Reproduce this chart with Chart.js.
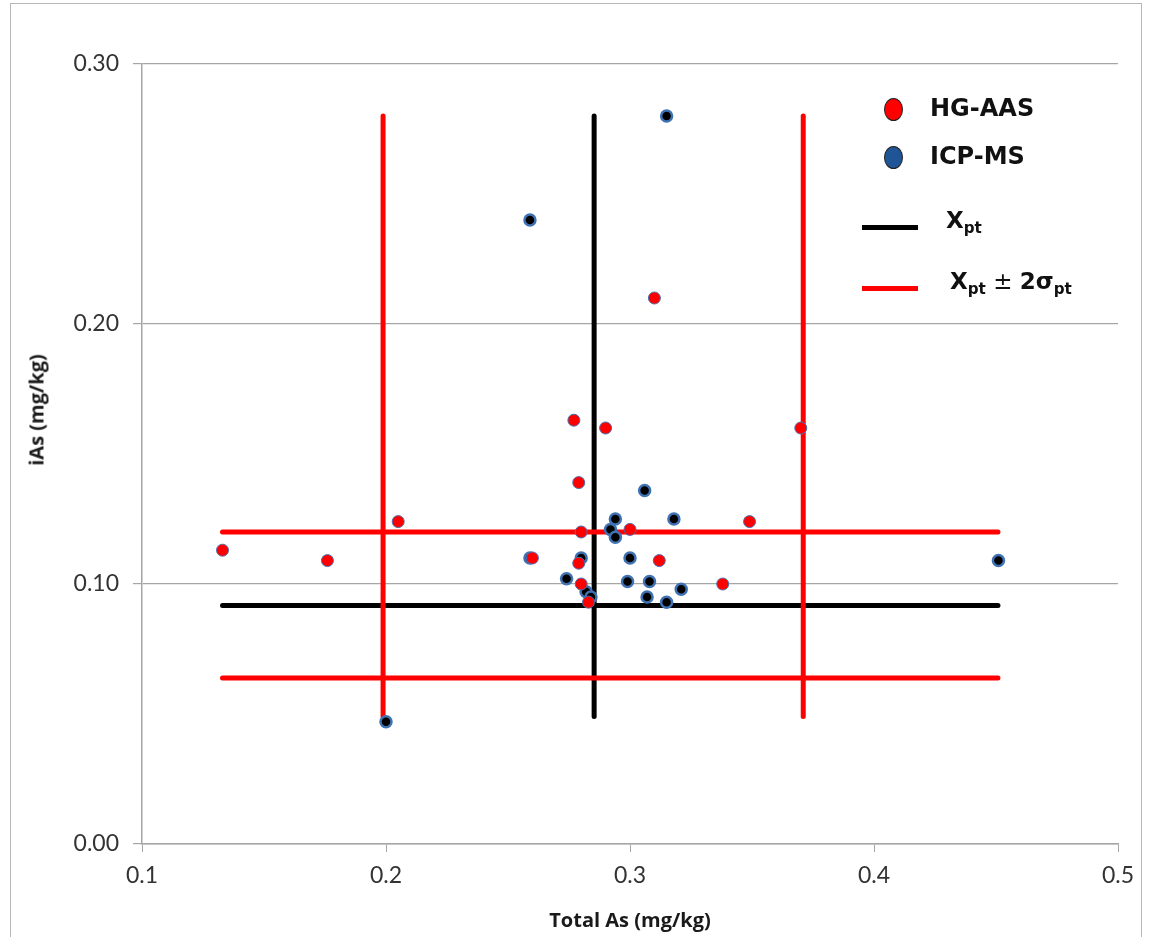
<!DOCTYPE html>
<html>
<head>
<meta charset="utf-8">
<script src="https://cdn.jsdelivr.net/npm/chart.js@4.4.1/dist/chart.umd.min.js"></script>
<style>
  body { margin: 0; background: #fff; font-family: Lato, "Noto Sans", sans-serif; }
  #wrap { position: relative; width: 1153px; height: 937px; overflow: hidden; }
  #frame { position: absolute; left: 10px; top: 3px; width: 1132px; height: 960px; border: 1.5px solid #b8b8b8; box-sizing: border-box; }
  #chartAs { position: absolute; left: 0; top: 0; }
  .ytitle { position: absolute; left: 36px; top: 410px; transform: translate(-50%, -50%) rotate(-90deg); font-family: "Open Sans", sans-serif; font-weight: bold; font-size: 20px; white-space: nowrap; color: #1a1a1a; }
  .leg { position: absolute; font-family: "DejaVu Sans", sans-serif; font-weight: bold; color: #111; white-space: nowrap; }
  .dot { position: absolute; width: 19px; height: 23px; border-radius: 50%; border: 1.5px solid #222; box-sizing: border-box; }
  .bar { position: absolute; height: 5px; width: 56px; }
  sub { font-size: 0.66em; vertical-align: -0.3em; }
</style>
</head>
<body>
<div id="wrap">
  <div id="frame"></div>
  <canvas id="chartAs" width="1153" height="937"></canvas>
  <div class="ytitle">iAs (mg/kg)</div>

  <div class="dot" style="left:884px; top:98px; background:#ff0000;"></div>
  <div class="leg" style="left:930px; top:94px; font-size:24px;">HG-AAS</div>
  <div class="dot" style="left:884px; top:146px; background:#1f5496;"></div>
  <div class="leg" style="left:930px; top:142px; font-size:24px;">ICP-MS</div>
  <div class="bar" style="left:862px; top:225px; background:#000;"></div>
  <div class="leg" style="left:946px; top:207px; font-size:23px;">X<sub>pt</sub></div>
  <div class="bar" style="left:862px; top:286px; background:#ff0000;"></div>
  <div class="leg" style="left:950px; top:268px; font-size:23px;">X<sub>pt</sub><span style="font-weight:normal"> ± </span>2σ<sub>pt</sub></div>
</div>

<script>
// HG-AAS results (total As, iAs)
const hgX = [0.133, 0.176, 0.205, 0.260, 0.277, 0.290, 0.279, 0.280, 0.279, 0.280, 0.283, 0.300, 0.312, 0.310, 0.338, 0.349, 0.370];
const hgY = [0.113, 0.109, 0.124, 0.110, 0.163, 0.160, 0.139, 0.120, 0.108, 0.100, 0.093, 0.121, 0.109, 0.210, 0.100, 0.124, 0.160];

// ICP-MS results
const icpX = [0.315, 0.259, 0.306, 0.294, 0.292, 0.294, 0.318, 0.280, 0.300, 0.259, 0.274, 0.299, 0.308, 0.282, 0.284, 0.307, 0.315, 0.321, 0.200, 0.451];
const icpY = [0.280, 0.240, 0.136, 0.125, 0.121, 0.118, 0.125, 0.110, 0.110, 0.110, 0.102, 0.101, 0.101, 0.097, 0.095, 0.095, 0.093, 0.098, 0.047, 0.109];

// assigned values and limits
const xPt = 0.2853;
const xLimits = [0.1988, 0.3710];
const yPt = 0.0917;
const yLimits = [0.0638, 0.120];
const lineXRange = [0.133, 0.4508];
const lineYRange = [0.049, 0.280];

const xTicks = [0.1, 0.2, 0.3, 0.4, 0.5];
const yTicks = [0.00, 0.10, 0.20, 0.30];

function pts(xs, ys) {
  return xs.map((x, i) => ({ x, y: ys[i] }));
}

function vLine(x) {
  return [{ x: x, y: lineYRange[0] }, { x: x, y: lineYRange[1] }];
}

function hLine(y) {
  return [{ x: lineXRange[0], y: y }, { x: lineXRange[1], y: y }];
}

function refLine(data, color) {
  return {
    data: data,
    showLine: true,
    borderColor: color,
    backgroundColor: color,
    borderWidth: 5,
    borderCapStyle: 'round',
    pointRadius: 0,
    order: 5
  };
}

const data = {
  datasets: [
    {
      label: 'HG-AAS',
      data: pts(hgX, hgY),
      backgroundColor: '#ff0000',
      borderColor: '#4a6fae',
      borderWidth: 1,
      pointRadius: 6,
      order: 0
    },
    {
      label: 'ICP-MS',
      data: pts(icpX, icpY),
      backgroundColor: '#000000',
      borderColor: '#3f72b3',
      borderWidth: 2.5,
      pointRadius: 5.5,
      order: 1
    },
    refLine(vLine(xLimits[0]), '#ff0000'),
    refLine(vLine(xLimits[1]), '#ff0000'),
    refLine(hLine(yLimits[0]), '#ff0000'),
    refLine(hLine(yLimits[1]), '#ff0000'),
    refLine(vLine(xPt), '#000000'),
    refLine(hLine(yPt), '#000000')
  ]
};

const config = {
  type: 'scatter',
  data: data,
  options: {
    responsive: false,
    animation: false,
    layout: {
      padding: { top: 64, right: 35, left: 0, bottom: 0 }
    },
    plugins: {
      legend: { display: false },
      tooltip: { enabled: false }
    },
    scales: {
      x: {
        type: 'linear',
        position: 'bottom',
        min: 0.1,
        max: 0.5,
        afterBuildTicks: (scale) => { scale.ticks = xTicks.map(v => ({ value: v })); },
        afterFit: (scale) => { scale.height = 93; },
        ticks: {
          callback: (v) => v.toFixed(1),
          color: '#333',
          font: { family: 'Lato', size: 23 },
          padding: 10
        },
        grid: {
          drawOnChartArea: false,
          color: '#a6a6a6',
          tickLength: 8,
          tickColor: '#a6a6a6'
        },
        border: { color: '#a6a6a6', width: 1.5 },
        title: {
          display: true,
          text: 'Total As (mg/kg)',
          color: '#1a1a1a',
          font: { family: 'Open Sans', size: 20, weight: 'bold' },
          padding: { top: 2 }
        }
      },
      y: {
        min: 0,
        max: 0.3,
        afterBuildTicks: (scale) => { scale.ticks = yTicks.map(v => ({ value: v })); },
        afterFit: (scale) => { scale.width = 142; },
        ticks: {
          callback: (v) => v.toFixed(2),
          color: '#333',
          font: { family: 'Lato', size: 23 },
          padding: 14
        },
        grid: {
          color: '#a6a6a6',
          lineWidth: 1.2,
          tickLength: 9,
          tickColor: '#a6a6a6'
        },
        border: { color: '#a6a6a6', width: 1.5 }
      }
    }
  }
};

const ctx = document.getElementById('chartAs').getContext('2d');
const chartAs = new Chart(ctx, config);
</script>
</body>
</html>
